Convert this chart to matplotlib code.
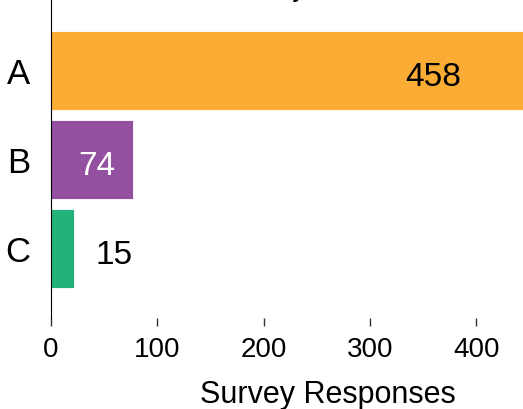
import matplotlib
matplotlib.use("Agg")
import matplotlib.pyplot as plt

# data
categories = ["A", "B", "C"]
value_labels = ["458", "74", "15"]
# bar lengths as measured on the x scale of the picture
bar_lengths = [458, 77, 22]
colors = ["#FBAC34", "#934FA0", "#23B27A"]
label_colors = ["black", "white", "black"]
# label centre, relative to the bar end (data units)
label_shift = [-99, -34, 37]

plt.rcParams["font.family"] = ["Liberation Sans", "DejaVu Sans"]

fig = plt.figure(figsize=(5.23, 4.10), dpi=100)
# axes runs past the top and right edge (the original was cropped)
ax = fig.add_axes([51 / 523, 91 / 410, 554 / 523, 319 / 410 + 0.01])

ypos = list(range(len(categories)))[::-1]
ax.barh(ypos, bar_lengths, height=0.89, color=colors, edgecolor="white", linewidth=0.6)

for y, v, txt, s, c in zip(ypos, bar_lengths, value_labels, label_shift, label_colors):
    ax.text(v + s, y - 0.03, txt, ha="center", va="center_baseline", fontsize=24, color=c)

ax.set_yticks(ypos)
ax.set_yticklabels(categories, fontsize=25)
ax.tick_params(axis="y", length=0, pad=15)
ax.set_xticks([0, 100, 200, 300, 400])
ax.tick_params(axis="x", labelsize=20, length=6, width=1, color="#333333", pad=7)
ax.set_xlim(0, 521)
ax.set_ylim(-0.785, 2.85)

for side in ["top", "right", "bottom"]:
    ax.spines[side].set_visible(False)
ax.spines["left"].set_color("black")

ax.set_xlabel("Survey Responses", fontsize=22, labelpad=12)

# title peeking in from above the frame
fig.text(307 / 523, 1 + 4 / 410, "Survey", ha="right", va="baseline", fontsize=20)

fig.savefig("out.png", dpi=100)
